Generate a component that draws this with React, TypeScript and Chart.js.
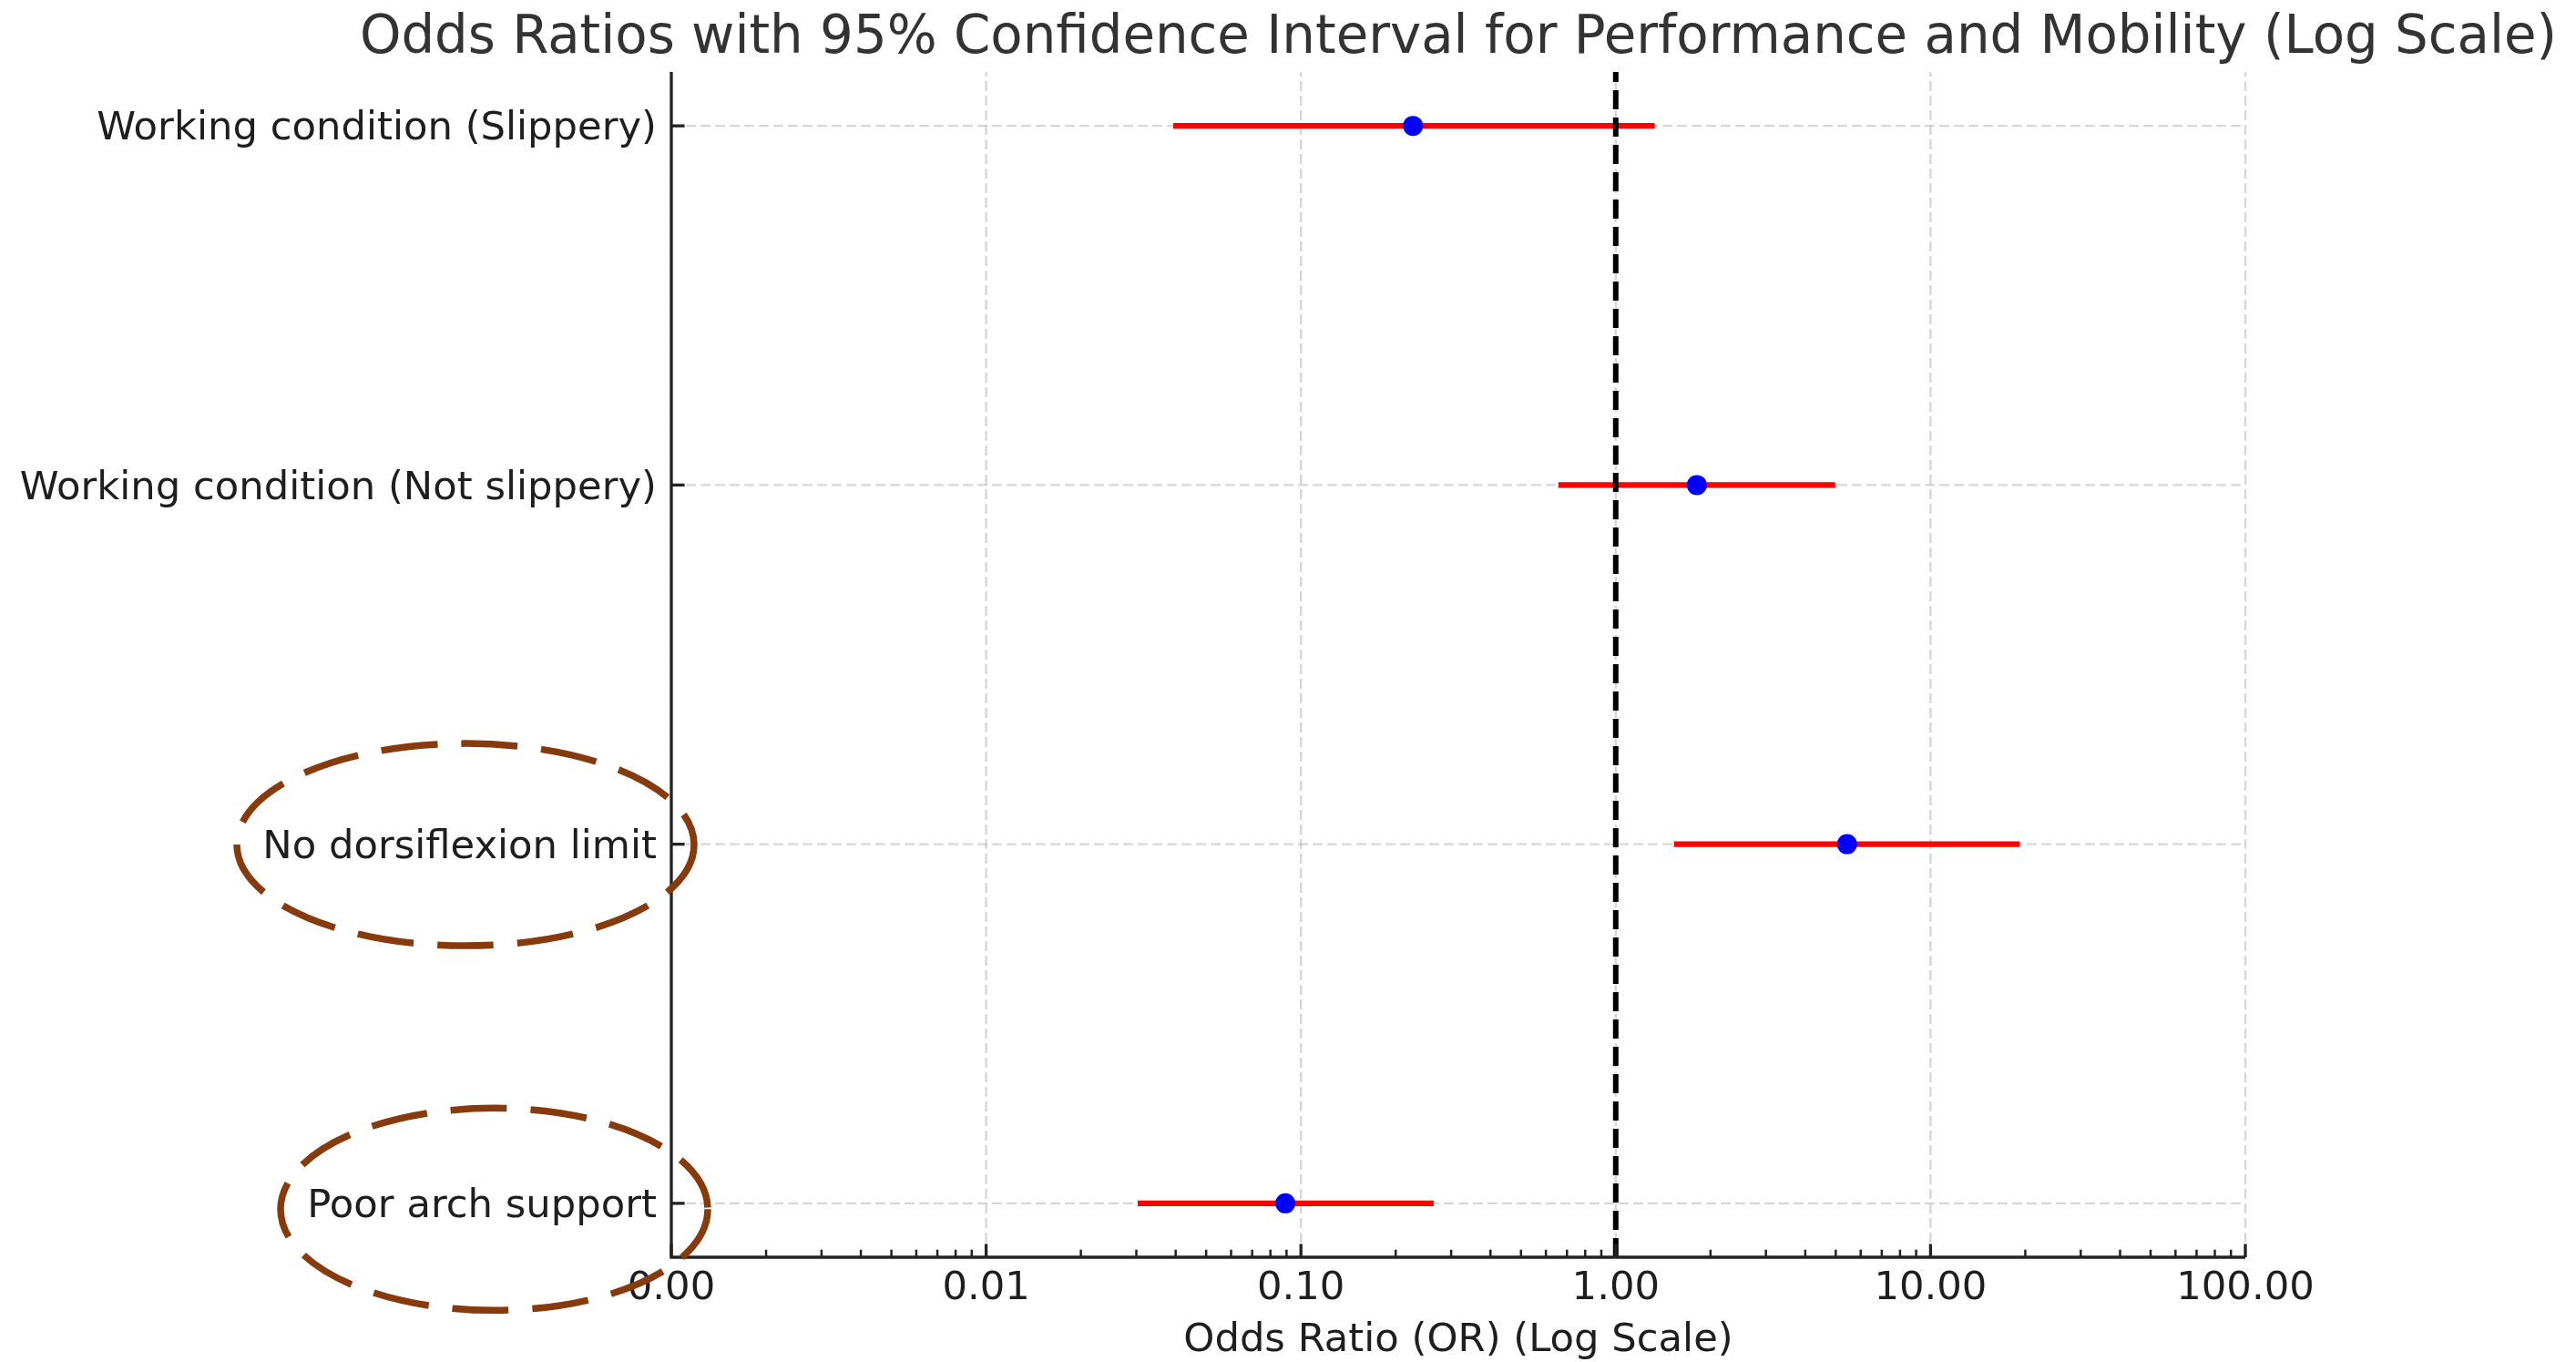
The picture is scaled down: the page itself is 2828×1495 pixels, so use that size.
import React, { useEffect, useRef } from "react";
import { Chart, registerables } from "chart.js";

Chart.register(...registerables);

// ---------------- data ----------------
const CATEGORIES = [
  "Working condition (Slippery)",
  "Working condition (Not slippery)",
  "No dorsiflexion limit",
  "Poor arch support",
];
const ODDS_RATIOS = [0.227, 1.81, 5.43, 0.0892];
const CI_LOWER = [0.0393, 0.657, 1.53, 0.0303];
const CI_UPPER = [1.33, 4.98, 19.2, 0.264];
const REFERENCE_OR = 1;
const X_TICK_VALUES = [0.001, 0.01, 0.1, 1, 10, 100];
const X_TICK_LABELS = ["0.00", "0.01", "0.10", "1.00", "10.00", "100.00"];
const HIGHLIGHTED = ["No dorsiflexion limit", "Poor arch support"];
const TITLE = "Odds Ratios with 95% Confidence Interval for Performance and Mobility (Log Scale)";
const X_TITLE = "Odds Ratio (OR) (Log Scale)";

// ---------------- style ----------------
const W = 2828;
const H = 1495;
const FONT = '"DejaVu Sans", "Noto Sans", sans-serif';
const TICK_PX = 43.3;
const TITLE_PX = 57.8;
const TEXT_COLOR = "#1e1e1e";
const TITLE_COLOR = "#333333";
const GRID_COLOR = "rgba(176,176,176,0.5)";
const SPINE_COLOR = "#222222";
const ELLIPSE_COLOR = "#873a0c";
// ellipse geometry relative to plot left edge / category row
const ELLIPSE_STYLE: Record<string, { dx: number; dy: number; rx: number; ry: number }> = {
  "No dorsiflexion limit": { dx: -226, dy: 0.5, rx: 251, ry: 111 },
  "Poor arch support": { dx: -194.5, dy: 6.5, rx: 234.5, ry: 111 },
};

const decorPlugin = {
  id: "decor",
  beforeDatasetsDraw(chart: any) {
    const { ctx, chartArea: a } = chart;
    const xs = chart.scales.x;
    const ys = chart.scales.y;
    ctx.save();
    // grid
    ctx.strokeStyle = GRID_COLOR;
    ctx.lineWidth = 2.4;
    ctx.setLineDash([11, 5]);
    X_TICK_VALUES.forEach((v) => {
      const px = xs.getPixelForValue(v);
      ctx.beginPath();
      ctx.moveTo(px, a.bottom);
      ctx.lineTo(px, a.top);
      ctx.stroke();
    });
    CATEGORIES.forEach((_, i) => {
      const py = ys.getPixelForValue(i);
      ctx.beginPath();
      ctx.moveTo(a.left, py);
      ctx.lineTo(a.right, py);
      ctx.stroke();
    });
    ctx.restore();
  },
  afterDatasetsDraw(chart: any) {
    const { ctx, chartArea: a } = chart;
    const xs = chart.scales.x;
    const ys = chart.scales.y;
    ctx.save();
    ctx.setLineDash([]);
    ctx.strokeStyle = SPINE_COLOR;
    // spines
    ctx.lineWidth = 3.3;
    ctx.beginPath();
    ctx.moveTo(a.left, a.top);
    ctx.lineTo(a.left, a.bottom);
    ctx.lineTo(a.right, a.bottom);
    ctx.stroke();
    // major ticks (inward)
    X_TICK_VALUES.forEach((v) => {
      const px = xs.getPixelForValue(v);
      ctx.beginPath();
      ctx.moveTo(px, a.bottom);
      ctx.lineTo(px, a.bottom - 14.6);
      ctx.stroke();
    });
    CATEGORIES.forEach((_, i) => {
      const py = ys.getPixelForValue(i);
      ctx.beginPath();
      ctx.moveTo(a.left, py);
      ctx.lineTo(a.left + 14.6, py);
      ctx.stroke();
    });
    // minor ticks
    ctx.lineWidth = 2.5;
    for (let d = 0; d < X_TICK_VALUES.length - 1; d++) {
      for (let k = 2; k <= 9; k++) {
        const px = xs.getPixelForValue(X_TICK_VALUES[d] * k);
        ctx.beginPath();
        ctx.moveTo(px, a.bottom);
        ctx.lineTo(px, a.bottom - 8.3);
        ctx.stroke();
      }
    }
    ctx.restore();
  },
  afterDraw(chart: any) {
    const { ctx, chartArea: a } = chart;
    const ys = chart.scales.y;
    const cx = (a.left + a.right) / 2;
    ctx.save();
    // title
    ctx.fillStyle = TITLE_COLOR;
    ctx.font = `${TITLE_PX}px ${FONT}`;
    ctx.textAlign = "center";
    ctx.textBaseline = "alphabetic";
    ctx.fillText(TITLE, cx, 58);
    // x title
    ctx.fillStyle = TEXT_COLOR;
    ctx.font = `${TICK_PX}px ${FONT}`;
    ctx.fillText(X_TITLE, cx, 1483);
    // highlight ellipses
    ctx.strokeStyle = ELLIPSE_COLOR;
    ctx.lineWidth = 7.5;
    ctx.setLineDash([62, 26]);
    HIGHLIGHTED.forEach((name) => {
      const i = CATEGORIES.indexOf(name);
      const s = ELLIPSE_STYLE[name];
      if (i < 0 || !s) return;
      const cy = ys.getPixelForValue(i) + s.dy;
      ctx.beginPath();
      ctx.ellipse(a.left + s.dx, cy, s.rx, s.ry, 0, 0, Math.PI * 2);
      ctx.stroke();
    });
    ctx.restore();
  },
};

export default function App() {
  const ref = useRef<HTMLCanvasElement>(null);

  useEffect(() => {
    document.body.style.margin = "0";
    const canvas = ref.current;
    if (!canvas) return;
    const Y_MIN = -0.15;
    const Y_MAX = CATEGORIES.length - 1 + 0.15;

    const ciDatasets = CATEGORIES.map((c, i) => ({
      type: "line" as const,
      label: `${c} CI`,
      data: [
        { x: CI_LOWER[i], y: i },
        { x: CI_UPPER[i], y: i },
      ],
      borderColor: "#ff0000",
      borderWidth: 6.25,
      borderCapStyle: "butt",
      pointRadius: 0,
      fill: false,
      order: 3,
    }));

    const chart = new Chart(canvas, {
      type: "scatter",
      data: {
        datasets: [
          {
            type: "line",
            label: "OR = 1",
            data: [
              { x: REFERENCE_OR, y: Y_MAX },
              { x: REFERENCE_OR, y: Y_MIN },
            ],
            borderColor: "#000000",
            borderWidth: 6,
            borderDash: [21, 9],
            borderCapStyle: "butt",
            pointRadius: 0,
            fill: false,
            order: 1,
          },
          {
            type: "scatter",
            label: "Odds Ratio",
            data: ODDS_RATIOS.map((v, i) => ({ x: v, y: i })),
            backgroundColor: "#0000ff",
            borderColor: "#0000ff",
            pointRadius: 11,
            pointBorderWidth: 0,
            order: 2,
          },
          ...ciDatasets,
        ] as any,
      },
      options: {
        responsive: false,
        devicePixelRatio: 1,
        animation: false,
        events: [],
        layout: { padding: { left: 0, top: 79, right: W - 2465, bottom: 0 } },
        plugins: {
          legend: { display: false },
          tooltip: { enabled: false },
          title: { display: false },
        },
        scales: {
          x: {
            type: "logarithmic",
            position: "bottom",
            min: X_TICK_VALUES[0],
            max: X_TICK_VALUES[X_TICK_VALUES.length - 1],
            grid: { display: false, drawTicks: false },
            border: { display: false },
            afterBuildTicks: (scale: any) => {
              scale.ticks = X_TICK_VALUES.map((v) => ({ value: v, major: true }));
            },
            afterFit: (scale: any) => {
              scale.height = H - 1380;
            },
            ticks: {
              autoSkip: false,
              maxRotation: 0,
              minRotation: 0,
              padding: 9,
              color: TEXT_COLOR,
              font: { family: FONT, size: TICK_PX },
              callback: (_v: any, i: number) => X_TICK_LABELS[i],
            },
          },
          y: {
            type: "linear",
            position: "left",
            reverse: true,
            min: Y_MIN,
            max: Y_MAX,
            grid: { display: false, drawTicks: false },
            border: { display: false },
            afterBuildTicks: (scale: any) => {
              scale.ticks = CATEGORIES.map((_, i) => ({ value: i }));
            },
            afterFit: (scale: any) => {
              scale.width = 737;
            },
            ticks: {
              autoSkip: false,
              padding: 16,
              labelOffset: 4,
              color: TEXT_COLOR,
              font: { family: FONT, size: TICK_PX },
              callback: (v: any) => CATEGORIES[v as number],
            },
          },
        },
      } as any,
      plugins: [decorPlugin],
    });

    return () => chart.destroy();
  }, []);

  return (
    <canvas
      ref={ref}
      width={W}
      height={H}
      style={{ display: "block", width: W, height: H }}
    />
  );
}
